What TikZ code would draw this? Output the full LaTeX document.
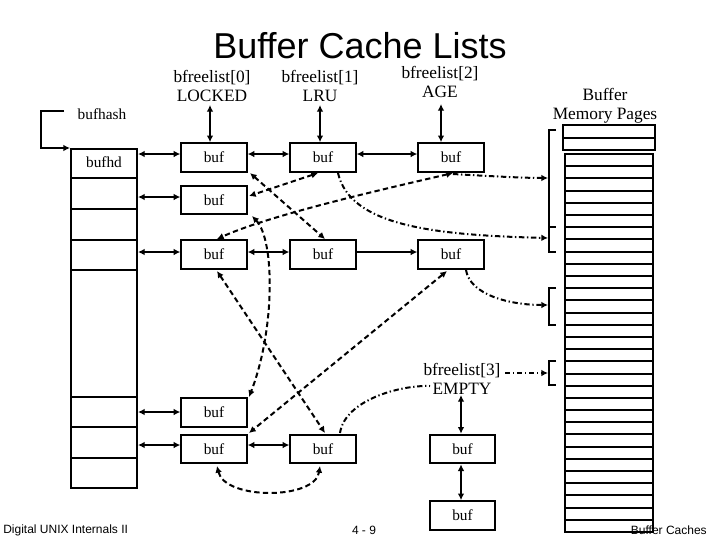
\documentclass[tikz,border=0pt]{standalone}
\usepackage{fontspec}
\setmainfont{Liberation Serif}
\setsansfont{Liberation Sans}
\usetikzlibrary{arrows.meta}
\begin{document}
\begin{tikzpicture}[x=0.75pt,y=-0.75pt,
  box/.style={draw,line width=1.5pt,minimum width=49pt,minimum height=21.5pt,inner sep=0pt,font=\fontsize{11.5}{11.5}\selectfont},
  lbl/.style={align=center,font=\fontsize{13}{14.5}\selectfont,inner sep=0pt},
  sa/.style={line width=1.5pt,{Latex[length=5pt,width=5pt]}-{Latex[length=5pt,width=5pt]}},
  so/.style={line width=1.5pt,-{Latex[length=5pt,width=5pt]}},
  da/.style={line width=1.5pt,dashed,dash pattern=on 4pt off 2.5pt,{Latex[length=5pt,width=5pt]}-{Latex[length=5pt,width=5pt]}},
  dd/.style={line width=1.5pt,dash pattern=on 4pt off 2pt on 1pt off 2pt},
  foot/.style={font=\sffamily\fontsize{9}{9}\selectfont,inner sep=0pt}]
\useasboundingbox (0,0) rectangle (720,540);
% title
\node[font=\sffamily\fontsize{27}{27}\selectfont] (title) at (360,46) {Buffer Cache Lists};
% hash table
\draw[line width=1.5pt] (71,149) rectangle (137,488);
\foreach \y in {178,209,240,270,397,427,458} \draw[line width=1.5pt] (71,\y) -- (137,\y);
\node[font=\fontsize{11.5}{11.5}\selectfont] (bufhd) at (104,162) {bufhd};
\node[font=\fontsize{11.5}{11.5}\selectfont] (bufhash) at (102,114) {bufhash};
\coordinate (hcorner) at (64,111);
\draw[so] (hcorner) -- (41,111) -- (41,148) -- (70,148);
% headers
\node[lbl] (h0) at (212,86) {bfreelist[0]\\LOCKED};
\node[lbl] (h1) at (320,86) {bfreelist[1]\\LRU};
\node[lbl] (h2) at (440,82) {bfreelist[2]\\AGE};
\node[lbl] (h3) at (462,379) {bfreelist[3]\\EMPTY};
\node[lbl] (mem) at (605,106) {Buffer\\Memory Pages};
% bufs
\node[box] (a1) at (214,157.5) {buf};
\node[box] (a2) at (323,157.5) {buf};
\node[box] (a3) at (451,157.5) {buf};
\node[box] (b1) at (214,200) {buf};
\node[box] (c1) at (214,254.5) {buf};
\node[box] (c2) at (323,254.5) {buf};
\node[box] (c3) at (451,254.5) {buf};
\node[box] (d1) at (214,412.5) {buf};
\node[box] (e1) at (214,449) {buf};
\node[box] (e2) at (323,449) {buf};
\node[box] (f1) at (462.5,449) {buf};
\node[box] (f2) at (462.5,515.5) {buf};
% header arrows
\draw[sa] (210,105) -- (a1.north -| 210,0);
\draw[sa] (320,105) -- (a2.north -| 320,0);
\draw[sa] (441,104) -- (a3.north -| 441,0);
\draw[sa] (h3.south -| 461,0) -- (f1.north -| 461,0);
\draw[sa] (f1.south -| 461,0) -- (f2.north -| 461,0);
% hash links
\draw[sa] (138,154) -- (a1.west |- 0,154);
\draw[sa] (138,197) -- (b1.west |- 0,197);
\draw[sa] (138,252) -- (c1.west |- 0,252);
\draw[sa] (138,412) -- (d1.west |- 0,412);
\draw[sa] (138,445) -- (e1.west |- 0,445);
\draw[sa] (a1.east |- 0,154) -- (a2.west |- 0,154);
\draw[sa] (a2.east |- 0,154) -- (a3.west |- 0,154);
\draw[sa] (c1.east |- 0,252) -- (c2.west |- 0,252);
\draw[so] (c2.east |- 0,252) -- (c3.west |- 0,252);
\draw[sa] (e1.east |- 0,445) -- (e2.west |- 0,445);
% dashed free-list links
\draw[da] (250,173) -- (325,239);
\draw[da] (318,173) -- (249,196);
\draw[da] (453,173) .. controls (380,190) and (270,215) .. (217,239);
\draw[da] (252,216) .. controls (275,240) and (275,330) .. (249,397);
\draw[da] (217,271) -- (325,433);
\draw[da] (447,271) -- (249,433);
\draw[da] (217,466) .. controls (225,500) and (315,500) .. (320,466);
% dash-dot to pages
\coordinate (p1) at (548,178);
\coordinate (p2) at (548,238);
\coordinate (p3) at (548,305);
\coordinate (p4) at (548,373);
\draw[dd,-{Latex[length=5pt,width=5pt]}] (453,174) .. controls (470,175) and (520,178) .. (p1);
\draw[dd,-{Latex[length=5pt,width=5pt]}] (338,173) .. controls (350,225) and (430,235) .. (p2);
\draw[dd,-{Latex[length=5pt,width=5pt]}] (466,270) .. controls (470,295) and (510,305) .. (p3);
\draw[dd,-{Latex[length=5pt,width=5pt]}] (505,373) -- (p4);
\draw[dd] (340,433) .. controls (345,400) and (400,385) .. (430,386);
% brackets
\draw[line width=1.5pt] (556,130) -- (549,130) -- (549,227) -- (556,227);
\draw[line width=1.5pt] (549,227) -- (549,252) -- (556,252);
\draw[line width=1.5pt] (556,288) -- (549,288) -- (549,325) -- (556,325);
\draw[line width=1.5pt] (556,361) -- (549,361) -- (549,385) -- (556,385);
% memory pages
\draw[line width=1.5pt] (563,125) rectangle (655,150);
\draw[line width=1.5pt] (563,137.5) -- (655,137.5);
\draw[line width=1.5pt] (565,154) rectangle (653,532);
\foreach \i in {1,...,30} \draw[line width=1.5pt] (565,154+\i*12.194) -- (653,154+\i*12.194);
% footer
\node[foot,anchor=west] (f-l) at (3,530) {Digital UNIX Internals II};
\node[foot] (f-c) at (364,530) {4 - 9};
\node[foot,anchor=east] (f-r) at (707,530) {Buffer Caches};
\end{tikzpicture}
\end{document}
